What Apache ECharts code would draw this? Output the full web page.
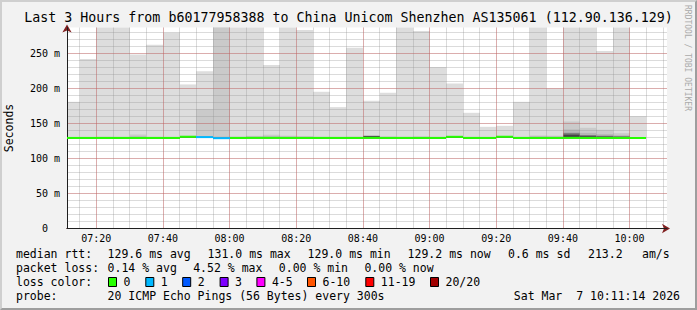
<!DOCTYPE html>
<html><head><meta charset="utf-8">
<script src="https://cdn.jsdelivr.net/npm/echarts@6/dist/echarts.min.js"></script>
<style>
html,body{margin:0;padding:0;background:#f2f2f2;overflow:hidden;}
#c{width:697px;height:310px;}
#frame{position:absolute;left:0;top:0;width:697px;height:310px;box-sizing:border-box;
border-top:2px solid #cfcfcf;border-left:2px solid #cfcfcf;border-right:2px solid #9e9e9e;border-bottom:2px solid #9e9e9e;pointer-events:none;}
</style></head><body>
<div id="c"></div><div id="frame"></div>
<script>
// ---------- DATA ----------
const titleText = 'Last 3 Hours from b60177958388 to China Unicom Shenzhen AS135061 (112.90.136.129)';
const viewStart = '07:11:14';
const viewEnd = '10:11:14';
const binStart = ['07:10','07:15','07:20','07:25','07:30','07:35','07:40','07:45','07:50','07:55',
                  '08:00','08:05','08:10','08:15','08:20','08:25','08:30','08:35','08:40','08:45',
                  '08:50','08:55','09:00','09:05','09:10','09:15','09:20','09:25','09:30','09:35',
                  '09:40','09:45','09:50','09:55','10:00'];
// median rtt (ms)
const median = [129.3,129.3,129.3,129.3,129.3,129.3,129.3,131.0,130.5,129.0,
                129.3,129.4,129.4,129.3,129.3,129.3,129.3,129.3,129.4,129.3,
                129.3,129.3,129.3,130.9,129.3,129.3,131.0,129.3,129.3,129.3,
                129.4,129.3,129.3,129.3,129.2];
// lost pings per bin (of 20)
const lostPings = [0,0,0,0,0,0,0,0,1,1, 0,0,0,0,0,0,0,0,0,0, 0,0,0,0,0,0,0,0,0,0, 0,0,0,0,0];
// sorted ping ranks (ms): lowest, and upper ranks 20,19,18,15,12
const pingMin = [128.6,128.6,128.7,128.6,128.6,128.6,128.6,129.6,129.2,128.5,
                 128.6,128.7,128.7,128.6,128.6,128.6,128.6,128.6,128.7,128.6,
                 128.6,128.6,128.6,129.5,128.6,128.6,129.6,128.6,128.6,128.6,
                 128.7,128.6,128.6,128.6,128.5];
const ping20 = [180.9,241.9,300.0,305.0,248.5,262.3,279.5,205.7,224.7,320.0,
                310.0,295.0,233.3,292.0,283.3,195.2,173.3,258.0,182.4,193.8,
                300.0,281.9,230.5,207.1,165.2,145.2,146.6,180.9,300.0,200.0,
                296.0,305.0,253.3,298.0,160.4];
const ping19 = [130.6,130.8,131.2,131.0,134.3,131.0,130.9,132.4,170.4,300.0,
                131.4,132.3,134.0,132.5,132.0,131.2,131.0,131.3,132.6,131.5,
                131.2,131.6,131.0,132.3,131.0,130.8,132.2,131.0,132.8,132.5,
                152.8,143.8,141.0,136.0,130.6];
const ping18 = [130.2,130.3,130.5,130.4,131.5,130.4,130.3,131.9,131.8,131.2,
                130.6,131.2,131.8,131.3,131.0,130.5,130.4,130.6,132.4,130.8,
                130.5,130.9,130.4,131.8,130.4,130.3,131.7,130.4,131.6,131.4,
                141.4,136.5,134.7,133.2,130.2];
const ping15 = [129.7,129.8,129.9,129.8,130.3,129.8,129.7,131.4,131.0,130.0,
                129.9,130.2,130.4,130.1,130.0,129.8,129.8,129.9,132.3,129.9,
                129.8,130.0,129.8,131.3,129.8,129.7,131.3,129.8,130.2,130.1,
                136.6,133.5,132.5,131.8,129.6];
const ping12 = [129.4,129.4,129.5,129.4,129.6,129.4,129.4,131.1,130.6,129.2,
                129.5,129.6,129.7,129.5,129.5,129.4,129.4,129.5,131.9,129.5,
                129.4,129.5,129.4,131.0,129.4,129.4,131.1,129.4,129.6,129.5,
                134.0,131.8,131.2,130.8,129.3];
const lossLabels = ['0','1','2','3','4-5','6-10','11-19','20/20'];
const lossMinCount = [0,1,2,3,4,6,11,20];
const lossColors = ['#26ff00','#00b8ff','#0059ff','#7e00ff','#ff00ff','#ff5500','#ff0000','#a10000'];
const yMax = 287;      // ms at top of plot
const yTicks = [0,50,100,150,200,250];
const statsRtt = ['median rtt:','129.6 ms avg','131.0 ms max','129.0 ms min','129.2 ms now','0.6 ms sd','213.2','am/s'];
const statsLoss = ['packet loss:','0.14 % avg','4.52 % max','0.00 % min','0.00 % now'];
const probeText = ['probe:','20 ICMP Echo Pings (56 Bytes) every 300s','Sat Mar\u00a0\u00a07 10:11:14 2026'];

// ---------- helpers ----------
const BIN = 5;
function toMin(s){const p=s.split(':').map(Number);return p[0]*60+p[1]+(p[2]||0)/60;}
const xMin = toMin(viewStart), xMax = toMin(viewEnd);
function fmtTime(v){const t=Math.round(v);const h=Math.floor(t/60),m=t%60;return (h<10?'0':'')+h+':'+(m<10?'0':'')+m;}
function lossIdx(n){let k=0;for(let i=0;i<lossMinCount.length;i++){if(n>=lossMinCount[i])k=i;}return k;}
const smokeShades = ['#dddddd','#cacaca','#b7b7b7','#7e7e7e','#454545'];
const MONO = '"DejaVu Sans Mono", "Liberation Mono", monospace';
const MINOR='rgba(143,143,143,0.32)', MAJOR='rgba(222,79,79,0.32)', NONE='rgba(0,0,0,0)';
// split-line colours per tick, hiding the lines that sit on the axis extent ends
function lineColors(min,max,step,color){
  const eps=1e-6, out=[];
  if (Math.abs(min/step-Math.round(min/step))>eps) out.push(NONE);
  const a=Math.ceil(min/step-eps), b=Math.floor(max/step+eps);
  for(let k=a;k<=b;k++){const edge=(Math.abs(k*step-min)<eps||Math.abs(k*step-max)<eps);out.push(edge?NONE:color);}
  if (Math.abs(max/step-Math.round(max/step))>eps) out.push(NONE);
  return out;
}

const smokeData = binStart.map((s,i)=>[toMin(s), pingMin[i], ping20[i], ping19[i], ping18[i], ping15[i], ping12[i]]);
const medianData = binStart.map((s,i)=>[toMin(s), median[i], lostPings[i]]);

function renderSmoke(params, api){
  const t0 = api.value(0);
  const cs = params.coordSys;
  const x0 = Math.round(api.coord([t0,0])[0]);
  const x1 = Math.round(api.coord([t0+BIN,0])[0]);
  const yLo = api.coord([t0, api.value(1)])[1];
  const children = [];
  for (let k=0;k<5;k++){
    const yHi = api.coord([t0, api.value(2+k)])[1];
    const r = echarts.graphic.clipRectByRect({x:x0,y:yHi,width:x1-x0,height:yLo-yHi},{x:cs.x,y:cs.y,width:cs.width,height:cs.height});
    if (r) children.push({type:'rect',shape:r,style:{fill:smokeShades[k]}});
  }
  return {type:'group',children};
}
function renderMedian(params, api){
  const t0 = api.value(0), m = api.value(1), lost = api.value(2);
  const cs = params.coordSys;
  const p0 = api.coord([t0,m]), p1 = api.coord([t0+BIN,m]);
  const xa = Math.max(Math.round(p0[0]), cs.x), xb = Math.min(Math.round(p1[0]), cs.x+cs.width);
  return {type:'line',shape:{x1:xa,y1:p0[1],x2:xb,y2:p0[1]},style:{stroke:lossColors[lossIdx(lost)],lineWidth:2}};
}

// ---------- legend graphics ----------
const g = [];
function txt(x,y,s,align){g.push({type:'text',x:x,y:y,silent:true,style:{text:s,fill:'#000',font:'11.5px '+MONO,textAlign:align||'left',textVerticalAlign:'middle'}});}
const rttX = [16,107.6,207.6,307.6,407.6,508,588,642];
statsRtt.forEach((s,i)=>txt(rttX[i],254,s));
const lossX = [16,107.6,193.2,278.8,364.4];
statsLoss.forEach((s,i)=>txt(lossX[i],268,s));
txt(16,282,'loss color:');
const boxX = [108,145.3,182.2,219.6,256.4,307,365.3,430];
lossLabels.forEach((l,i)=>{
  g.push({type:'rect',silent:true,shape:{x:boxX[i]+0.5,y:277.5,width:8,height:9},style:{fill:lossColors[i],stroke:'#000',lineWidth:1}});
  txt(boxX[i]+15.5,282,l);
});
txt(16,296,probeText[0]);
txt(107.6,296,probeText[1]);
txt(680,296,probeText[2],'right');
g.push({type:'text',x:687.5,y:5,rotation:-Math.PI/2,silent:true,style:{text:'RRDTOOL / TOBI OETIKER',fill:'#aaaaaa',font:'8px '+MONO,textAlign:'left',textVerticalAlign:'middle'}});

const chart = echarts.init(document.getElementById('c'), null, {renderer:'svg', width:697, height:310});
chart.setOption({
  animation:false,
  backgroundColor:'#f2f2f2',
  title:{text:titleText,left:'center',top:11,padding:0,textStyle:{fontFamily:MONO,fontSize:13.3,fontWeight:'normal',color:'#000'}},
  grid:{left:67,right:30,top:27.5,bottom:81.5,show:true,backgroundColor:'#ffffff',borderWidth:0,
        outerBounds:{left:-200,right:-200,top:-200,bottom:-200}},
  xAxis:[
    {type:'value',position:'bottom',min:xMin,max:xMax,splitNumber:9,z:3,
     axisLine:{show:true,onZero:false,lineStyle:{color:'#1f1f1f',width:1}},
     axisTick:{show:false},
     axisLabel:{formatter:fmtTime,showMinLabel:false,showMaxLabel:false,fontFamily:MONO,fontSize:10,color:'#000',margin:5},
     splitLine:{show:true,lineStyle:{color:lineColors(xMin,xMax,20,MAJOR),type:'solid',width:1}}},
    {type:'value',position:'bottom',min:xMin,max:xMax,splitNumber:36,z:2,
     axisLine:{show:true,onZero:false,symbol:['none','arrow'],symbolSize:[7,8],symbolOffset:[0,3],lineStyle:{color:'#801f1f',width:1}},
     axisTick:{show:false},axisLabel:{show:false},
     splitLine:{show:true,lineStyle:{color:lineColors(xMin,xMax,5,MINOR),type:'solid',width:1}}}
  ],
  yAxis:[
    {type:'value',position:'left',min:0,max:yMax,interval:50,z:3,
     axisLine:{show:true,onZero:false,lineStyle:{color:'#1f1f1f',width:1}},
     axisTick:{show:false},
     axisLabel:{formatter:v=>yTicks.indexOf(v)<0?'':(v===0?'0\u00a0\u00a0':v+' m'),showMaxLabel:false,fontFamily:MONO,fontSize:10,color:'#000',margin:7},
     splitLine:{show:true,lineStyle:{color:lineColors(0,yMax,50,MAJOR),type:'solid',width:1}},
     name:'Seconds',nameLocation:'middle',nameGap:52,nameRotate:90,
     nameTextStyle:{fontFamily:MONO,fontSize:11.5,color:'#000'}},
    {type:'value',position:'left',min:0,max:yMax,interval:10,z:2,
     axisLine:{show:true,onZero:false,symbol:['none','arrow'],symbolSize:[7,8],symbolOffset:[0,3],lineStyle:{color:'#801f1f',width:1}},
     axisTick:{show:false},axisLabel:{show:false},
     splitLine:{show:true,lineStyle:{color:lineColors(0,yMax,10,MINOR),type:'solid',width:1}}}
  ],
  series:[
    {type:'custom',name:'smoke',xAxisIndex:0,yAxisIndex:0,z:1,silent:true,renderItem:renderSmoke,data:smokeData,encode:{x:0,y:[1,2]}},
    {type:'custom',name:'median',xAxisIndex:0,yAxisIndex:0,z:5,silent:true,renderItem:renderMedian,data:medianData,encode:{x:0,y:1}}
  ],
  graphic:g
});
</script>
</body></html>
